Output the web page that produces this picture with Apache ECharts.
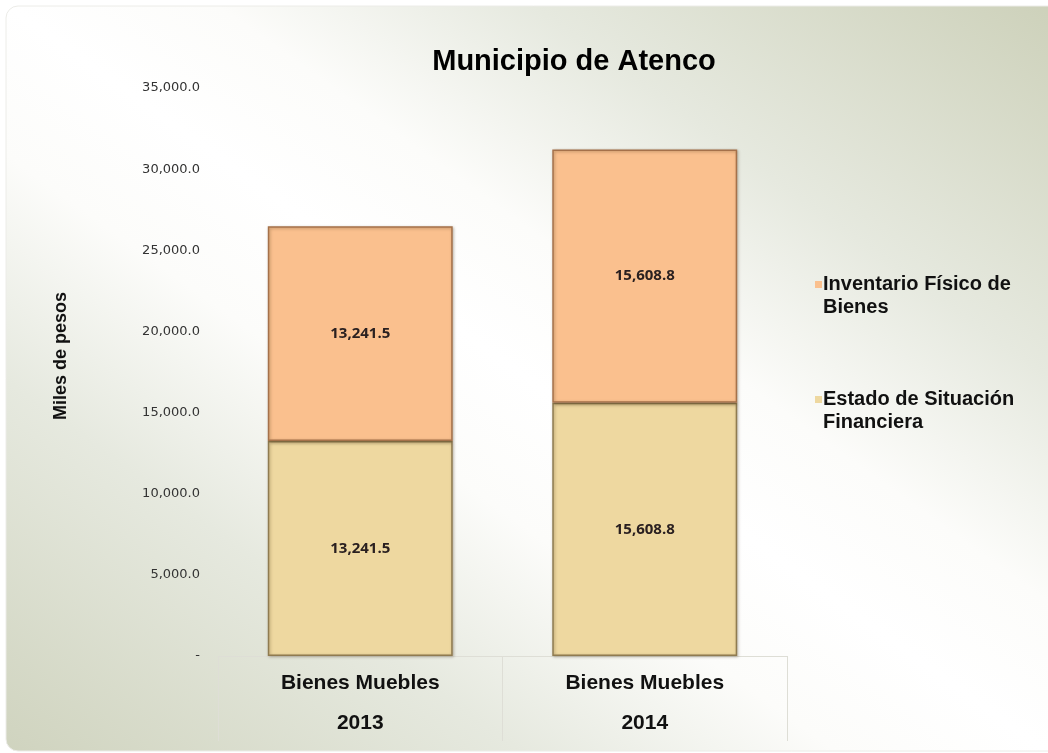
<!DOCTYPE html>
<html>
<head>
    <meta charset="utf-8">
    <script src="https://cdn.jsdelivr.net/npm/echarts@6/dist/echarts.min.js"></script>
    <style type="text/css">
        html, body { width: 100%; height: 100%; margin: 0; background: #fff; }
        #chart_main { width: 1048px; height: 753px; }
    </style>
</head>
<body>
<div id="chart_main"></div>
<script type="text/javascript">
    // datos de la grafica
    var categorias = ['Bienes Muebles\n2013', 'Bienes Muebles\n2014'];
    var estadoSituacion = [13241.5, 15608.8];
    var inventarioFisico = [13241.5, 15608.8];
    var nombresSeries = ['Estado de Situación\nFinanciera', 'Inventario Físico de\nBienes'];

    function fmtMiles(v) {
        if (v === 0) return '-';
        return v.toLocaleString('en-US', {minimumFractionDigits: 1, maximumFractionDigits: 1});
    }

    var myChart = echarts.init(document.getElementById('chart_main'));

    var etiqueta = {
        show: true,
        position: 'inside',
        color: '#2a2020',
        fontFamily: 'Open Sans',
        fontWeight: 'bold',
        fontSize: 15,
        formatter: function (p) { return fmtMiles(p.value); }
    };

    var option = {
        backgroundColor: '#fff',
        animation: false,
        graphic: [{
            type: 'rect',
            z: -10,
            silent: true,
            shape: {x: 6, y: 6, width: 1070, height: 745, r: 12},
            style: {
                stroke: '#ecece8',
                lineWidth: 1,
                // franja blanca en la diagonal superior-izquierda / inferior-derecha
                fill: new echarts.graphic.LinearGradient(167, 873, 881, -121, [
                    {offset: 0, color: '#cfd3be'},
                    {offset: 0.25, color: '#e6e9df'},
                    {offset: 0.4, color: '#fcfcfa'},
                    {offset: 0.5, color: '#ffffff'},
                    {offset: 0.6, color: '#fcfcfa'},
                    {offset: 0.75, color: '#e6e9df'},
                    {offset: 1, color: '#cdd1ba'}
                ], true)
            }
        }],
        title: {
            text: 'Municipio de Atenco',
            left: 569,
            top: 42,
            textAlign: 'center',
            textStyle: {
                fontFamily: 'Liberation Sans',
                fontWeight: 'bold',
                fontSize: 29,
                color: '#000'
            }
        },
        legend: {
            orient: 'vertical',
            left: 810,
            top: 245,
            itemWidth: 7,
            itemHeight: 7,
            itemGap: 46,
            icon: 'rect',
            itemStyle: {borderWidth: 0},
            data: [nombresSeries[1], nombresSeries[0]],
            // linea vacia al inicio para que el icono quede junto a la primera linea
            formatter: function (name) { return '\n' + name; },
            textStyle: {
                fontFamily: 'Liberation Sans',
                fontWeight: 'bold',
                fontSize: 20,
                color: '#111',
                lineHeight: 23,
                padding: [0, 0, 0, -4]
            }
        },
        grid: {left: 218, right: 261, top: 88, bottom: 97, outerBoundsMode: 'none'},
        xAxis: {
            type: 'category',
            data: categorias,
            axisLine: {show: true, lineStyle: {color: '#deded6', width: 1}},
            axisTick: {show: true, length: 85, lineStyle: {color: '#deded6'}},
            axisLabel: {
                margin: 7,
                fontFamily: 'Liberation Sans',
                fontWeight: 'bold',
                fontSize: 21,
                lineHeight: 40,
                color: '#111'
            }
        },
        yAxis: {
            type: 'value',
            min: 0,
            max: 35000,
            interval: 5000,
            name: 'Miles de pesos',
            nameLocation: 'middle',
            nameGap: 148,
            nameRotate: 90,
            nameTextStyle: {
                fontFamily: 'Liberation Sans',
                fontWeight: 'bold',
                fontSize: 18,
                color: '#111',
                padding: [0, 0, 0, 32]
            },
            axisLine: {show: false},
            axisTick: {show: false},
            splitLine: {show: false},
            axisLabel: {
                margin: 18,
                fontFamily: 'DejaVu Sans',
                fontSize: 13,
                color: '#333',
                formatter: fmtMiles
            }
        },
        series: [
            {
                name: nombresSeries[0],
                type: 'bar',
                stack: 'total',
                barWidth: '65%',
                data: estadoSituacion,
                itemStyle: {
                    color: '#eed8a0', borderColor: '#8f7b50', borderWidth: 1.5,
                    shadowBlur: 3, shadowColor: 'rgba(60,40,10,0.35)', shadowOffsetX: 1, shadowOffsetY: 1
                },
                label: etiqueta
            },
            {
                name: nombresSeries[1],
                type: 'bar',
                stack: 'total',
                barWidth: '65%',
                data: inventarioFisico,
                itemStyle: {
                    color: '#fac08e', borderColor: '#a5714a', borderWidth: 1.5,
                    shadowBlur: 3, shadowColor: 'rgba(60,40,10,0.35)', shadowOffsetX: 1, shadowOffsetY: 1
                },
                label: etiqueta
            }
        ]
    };

    myChart.setOption(option);
</script>
</body>
</html>
